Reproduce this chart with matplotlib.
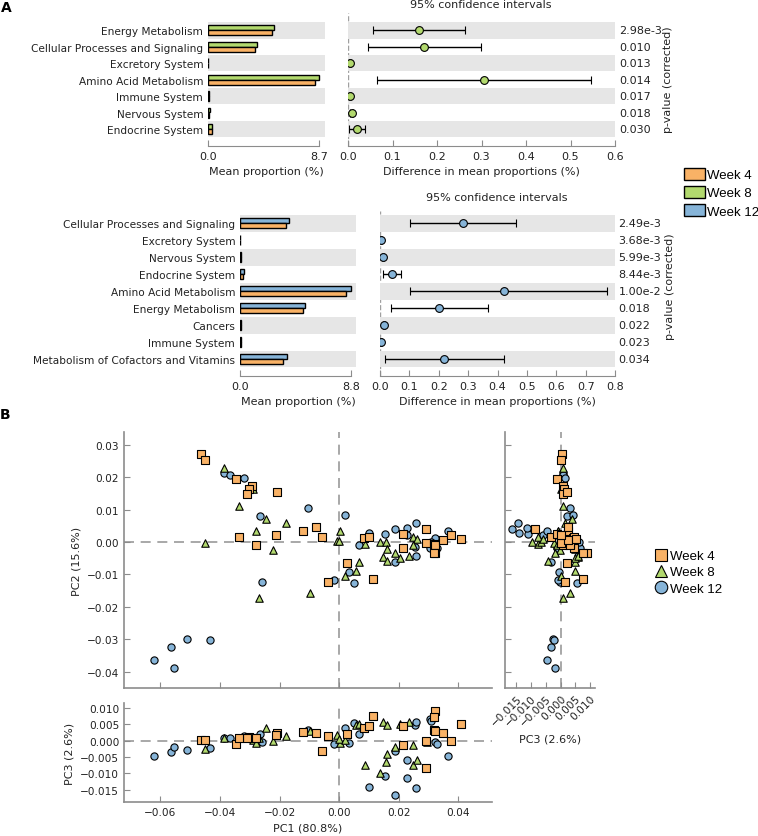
import numpy as np
import matplotlib
matplotlib.use('Agg')
import matplotlib.pyplot as plt
import matplotlib.transforms as mtransforms
from matplotlib.patches import Patch
from matplotlib.lines import Line2D

W, H = 758, 837

# colours
c4, c8, c12 = '#F9B266', '#B2D96E', '#86B4D8'
band = '#E6E6E6'
spine_gray = '#8C8C8C'

# ---- panel A, week 4 vs week 8 ----
cats_a1 = ['Energy Metabolism', 'Cellular Processes and Signaling', 'Excretory System',
           'Amino Acid Metabolism', 'Immune System', 'Nervous System', 'Endocrine System']
w8_mean = [5.17, 3.84, 0.02, 8.70, 0.10, 0.12, 0.35]
w4_mean_a1 = [5.00, 3.68, 0.02, 8.42, 0.09, 0.11, 0.30]
diff_a1 = [0.160, 0.170, 0.005, 0.306, 0.005, 0.008, 0.021]
lo_a1 = [0.057, 0.044, 0.003, 0.066, 0.003, 0.005, 0.003]
hi_a1 = [0.263, 0.298, 0.007, 0.547, 0.007, 0.011, 0.038]
p_a1 = ['2.98e-3', '0.010', '0.013', '0.014', '0.017', '0.018', '0.030']

# ---- panel A, week 4 vs week 12 ----
cats_a2 = ['Cellular Processes and Signaling', 'Excretory System', 'Nervous System',
           'Endocrine System', 'Amino Acid Metabolism', 'Energy Metabolism', 'Cancers',
           'Immune System', 'Metabolism of Cofactors and Vitamins']
w12_mean = [3.91, 0.02, 0.10, 0.30, 8.80, 5.18, 0.10, 0.08, 3.70]
w4_mean_a2 = [3.62, 0.02, 0.09, 0.25, 8.38, 4.97, 0.09, 0.07, 3.44]
diff_a2 = [0.284, 0.005, 0.011, 0.042, 0.422, 0.202, 0.014, 0.004, 0.219]
lo_a2 = [0.102, 0.003, 0.008, 0.009, 0.102, 0.036, 0.010, 0.002, 0.017]
hi_a2 = [0.463, 0.007, 0.014, 0.070, 0.772, 0.369, 0.018, 0.006, 0.422]
p_a2 = ['2.49e-3', '3.68e-3', '5.99e-3', '8.44e-3', '1.00e-2', '0.018', '0.022', '0.023', '0.034']

# ---- panel B, PCA scores ----
w4_pc1 = [-0.0462, -0.0451, -0.0347, -0.0294, -0.0302, -0.0308, -0.0210, -0.0336, -0.0280, -0.0212,
          -0.0122, -0.0078, -0.0059, -0.0039, 0.0026, 0.0082, 0.0099, 0.0114, 0.0214, 0.0214,
          0.0293, 0.0291, 0.0317, 0.0322, 0.0322, 0.0348, 0.0376, 0.0410, 0.0320]
w4_pc2 = [0.0272, 0.0254, 0.0193, 0.0173, 0.0162, 0.0147, 0.0154, 0.0015, -0.0010, 0.0021,
          0.0034, 0.0046, 0.0015, -0.0123, -0.0066, 0.0013, 0.0015, -0.0115, 0.0026, -0.0018,
          0.0039, -0.0002, -0.0005, -0.0010, -0.0033, 0.0005, 0.0023, 0.0010, -0.0035]
w4_pc3 = [0.0003, 0.0002, -0.0011, 0.0009, 0.0012, 0.0009, 0.0023, 0.0009, 0.0007, 0.0019,
          0.0026, 0.0025, -0.0032, 0.0015, 0.0020, 0.0040, 0.0046, 0.0076, -0.0013, 0.0046,
          -0.0085, 0.0000, 0.0033, 0.0031, 0.0090, 0.0024, 0.0000, 0.0053, 0.0074]

w8_pc1 = [-0.0388, -0.0288, -0.0337, -0.0244, -0.0180, -0.0280, -0.0451, -0.0221, -0.0270, -0.0097,
          -0.0008, 0.0003, 0.0001, 0.0020, 0.0056, 0.0065, 0.0087, 0.0138, 0.0147, 0.0157,
          0.0160, 0.0160, 0.0186, 0.0205, 0.0234, 0.0247, 0.0261, 0.0247, 0.0294]
w8_pc2 = [0.0229, 0.0162, 0.0110, 0.0072, 0.0057, 0.0034, -0.0003, -0.0024, -0.0173, -0.0157,
          0.0003, 0.0034, 0.0002, -0.0105, -0.0090, -0.0062, -0.0005, 0.0000, -0.0046, 0.0000,
          -0.0023, -0.0060, -0.0033, -0.0049, -0.0044, 0.0015, 0.0010, -0.0010, -0.0003]
w8_pc3 = [0.0009, 0.0002, 0.0007, 0.0038, 0.0014, -0.0008, -0.0024, -0.0001, 0.0009, 0.0030,
          0.0017, -0.0008, 0.0005, 0.0002, 0.0048, 0.0050, -0.0075, -0.0098, 0.0059, -0.0065,
          0.0048, -0.0042, -0.0019, 0.0050, 0.0059, -0.0075, -0.0058, -0.0013, -0.0003]

w12_pc1 = [-0.0620, -0.0564, -0.0554, -0.0512, -0.0434, -0.0386, -0.0365, -0.0318, -0.0266, -0.0259,
           -0.0106, -0.0016, 0.0020, 0.0034, 0.0051, 0.0068, 0.0099, 0.0154, 0.0186, 0.0188,
           0.0227, 0.0229, 0.0255, 0.0257, 0.0259, 0.0306, 0.0322, 0.0365, 0.0309, 0.0328]
w12_pc2 = [-0.0364, -0.0323, -0.0387, -0.0298, -0.0302, 0.0213, 0.0208, 0.0198, 0.0079, -0.0122,
           0.0106, -0.0118, 0.0083, -0.0092, -0.0126, -0.0008, 0.0029, 0.0024, 0.0041, -0.0062,
           0.0043, 0.0021, -0.0015, 0.0059, -0.0043, -0.0017, 0.0013, 0.0034, 0.0000, -0.0020]
w12_pc3 = [-0.0047, -0.0034, -0.0019, -0.0027, -0.0022, 0.0009, 0.0009, 0.0015, 0.0020, -0.0003,
           0.0033, -0.0010, 0.0040, -0.0006, 0.0056, 0.0020, -0.0142, -0.0109, -0.0165, -0.0031,
           -0.0113, -0.0058, 0.0048, -0.0145, 0.0059, 0.0067, -0.0003, -0.0046, 0.0061, -0.0011]

fig = plt.figure(figsize=(W / 100, H / 100), dpi=100)


def add_ax(x0, y0, x1, y1):
    # axes from pixel box (top-left origin)
    return fig.add_axes([x0 / W, 1 - y1 / H, (x1 - x0) / W, (y1 - y0) / H])


def fx(px):
    return px / W


def fy(py):
    return 1 - py / H


def stamp_panel(bx, bar_tick_px, cx, top, first_row, row_step, bottom,
                cats, mean_new, mean_w4, col, diff, lo, hi, pvals, bar_max, ci_max):
    n = len(cats)
    rows = np.arange(n)
    ylim = ((bottom - first_row) / row_step, -(first_row - top) / row_step)
    ax_b = add_ax(bx[0], top, bx[1], bottom)
    ax_c = add_ax(cx[0], top, cx[1], bottom)
    for ax in (ax_b, ax_c):
        for i in rows[::2]:
            ax.axhspan(i - 0.5, i + 0.5, color=band, lw=0, zorder=0.5)
        ax.set_ylim(*ylim)
        for s in ('left', 'right', 'top'):
            ax.spines[s].set_visible(False)
        ax.spines['bottom'].set_color(spine_gray)
        ax.tick_params(axis='x', direction='in', length=4, colors=spine_gray,
                       labelcolor='#222222', labelsize=8)
        ax.tick_params(axis='y', length=0)

    # mean proportions
    ax_b.barh(rows - 0.155, mean_new, height=0.3, color=col, edgecolor='black', lw=1, zorder=2)
    ax_b.barh(rows + 0.155, mean_w4, height=0.3, color=c4, edgecolor='black', lw=1, zorder=2)
    ax_b.set_xlim(0, bar_max * (bx[1] - bx[0]) / (bar_tick_px - bx[0]))
    ax_b.spines['bottom'].set_bounds(0, bar_max)
    ax_b.set_xticks([0, bar_max])
    ax_b.set_xticklabels(['0.0', f'{bar_max:.1f}'])
    ax_b.set_yticks(rows)
    ax_b.set_yticklabels(cats, fontsize=7.6, color='#222222')
    ax_b.set_xlabel('Mean proportion (%)', fontsize=8, color='#222222')

    # differences with confidence intervals
    d = np.array(diff)
    ax_c.axvline(0, ls='--', color='#A0A0A0', lw=1, zorder=0.2)
    ax_c.errorbar(d, rows, xerr=[d - np.array(lo), np.array(hi) - d], fmt='o', color=col,
                  mec='black', mew=0.8, ms=5.6, ecolor='black', elinewidth=1, capsize=3, zorder=3)
    ax_c.set_xlim(0, ci_max)
    ax_c.set_xticks(np.arange(0, ci_max + 0.001, 0.1))
    ax_c.set_xticklabels([f'{v:.1f}' for v in np.arange(0, ci_max + 0.001, 0.1)])
    ax_c.set_yticks([])
    ax_c.set_xlabel('Difference in mean proportions (%)', fontsize=8, color='#222222')
    tr = mtransforms.blended_transform_factory(ax_c.transAxes, ax_c.transData)
    for i, p in enumerate(pvals):
        ax_c.text(1.015, i, p, transform=tr, va='center', ha='left', fontsize=8, color='#222222')
    return ax_b, ax_c


stamp_panel((208, 325), 319, (348, 615), 14, 31.3, 16.45, 147,
            cats_a1, w8_mean, w4_mean_a1, c8, diff_a1, lo_a1, hi_a1, p_a1, 8.7, 0.6)
stamp_panel((240, 356), 351, (380, 615), 212, 224.3, 16.96, 377,
            cats_a2, w12_mean, w4_mean_a2, c12, diff_a2, lo_a2, hi_a2, p_a2, 8.8, 0.8)

fig.text(fx(481), fy(5), '95% confidence intervals', ha='center', va='center', fontsize=8, color='#222222')
fig.text(fx(497), fy(198), '95% confidence intervals', ha='center', va='center', fontsize=8, color='#222222')
fig.text(fx(668), fy(80), 'p-value (corrected)', rotation=90, ha='center', va='center', fontsize=8, color='#222222')
fig.text(fx(670), fy(287), 'p-value (corrected)', rotation=90, ha='center', va='center', fontsize=8, color='#222222')

fig.legend(handles=[Patch(fc=c, ec='black', lw=1) for c in (c4, c8, c12)],
           labels=['Week 4', 'Week 8', 'Week 12'], loc='upper left',
           bbox_to_anchor=(fx(684), fy(169)), frameon=False,
           prop={'family': 'Liberation Sans', 'size': 9.5}, handlelength=1.6, handleheight=1.0,
           handletextpad=0.15, labelspacing=0.35, borderpad=0, borderaxespad=0)

fig.text(fx(6), fy(8), 'A', fontweight='bold', fontsize=10, ha='center', va='center')
fig.text(fx(5), fy(415), 'B', fontweight='bold', fontsize=10, ha='center', va='center')

# ---- panel B ----
groups = [
    (w12_pc1, w12_pc2, w12_pc3, 'o', c12, 27),
    (w8_pc1, w8_pc2, w8_pc3, '^', c8, 29),
    (w4_pc1, w4_pc2, w4_pc3, 's', c4, 26),
]


def style_pc(ax):
    for s in ('right', 'top'):
        ax.spines[s].set_visible(False)
    for s in ('left', 'bottom'):
        ax.spines[s].set_color(spine_gray)
        ax.spines[s].set_linewidth(1.2)
    ax.tick_params(direction='in', length=4, colors=spine_gray, labelcolor='#222222', labelsize=7.6)
    ax.axhline(0, ls='--', color='#999999', lw=1.2, dashes=(6, 4), zorder=1)
    ax.axvline(0, ls='--', color='#999999', lw=1.2, dashes=(6, 4), zorder=1)


ax_m = add_ax(124, 433, 492, 689)
ax_r = add_ax(505, 433, 595, 689)
ax_l = add_ax(124, 704, 492, 803)
for ax in (ax_m, ax_r, ax_l):
    style_pc(ax)

for pc1, pc2, pc3, mk, col, s in groups:
    ax_m.scatter(pc1, pc2, marker=mk, s=s, c=col, edgecolors='black', linewidths=0.8, zorder=3)
    ax_r.scatter(pc3, pc2, marker=mk, s=s, c=col, edgecolors='black', linewidths=0.8, zorder=3)
    ax_l.scatter(pc1, pc3, marker=mk, s=s, c=col, edgecolors='black', linewidths=0.8, zorder=3)

pc1_lim = (-0.0722, 0.0513)
pc2_lim = (-0.0450, 0.0339)
pc3_lim = (-0.0188, 0.0116)
pc1_ticks = [-0.06, -0.04, -0.02, 0.0, 0.02, 0.04]
pc2_ticks = [-0.04, -0.03, -0.02, -0.01, 0.0, 0.01, 0.02, 0.03]
pc3_ticks = [-0.015, -0.010, -0.005, 0.0, 0.005, 0.010]

ax_m.set_xlim(*pc1_lim)
ax_m.set_ylim(*pc2_lim)
ax_m.set_xticks(pc1_ticks)
ax_m.set_xticklabels([])
ax_m.set_yticks(pc2_ticks)
ax_m.set_ylabel('PC2 (15.6%)', fontsize=8, color='#222222')

ax_r.set_xlim(*pc3_lim)
ax_r.set_ylim(*pc2_lim)
ax_r.set_yticks(pc2_ticks)
ax_r.set_yticklabels([])
ax_r.set_xticks(pc3_ticks)
plt.setp(ax_r.get_xticklabels(), rotation=45, ha='right', rotation_mode='anchor')
ax_r.set_xlabel('PC3 (2.6%)', fontsize=8, color='#222222')

ax_l.set_xlim(*pc1_lim)
ax_l.set_ylim(*pc3_lim)
ax_l.set_xticks(pc1_ticks)
ax_l.set_yticks(pc3_ticks)
ax_l.set_xlabel('PC1 (80.8%)', fontsize=8, color='#222222')
ax_l.set_ylabel('PC3 (2.6%)', fontsize=8, color='#222222')

fig.legend(handles=[Line2D([], [], ls='', marker=m, ms=9, mfc=c, mec='black', mew=0.8)
                    for m, c in (('s', c4), ('^', c8), ('o', c12))],
           labels=['Week 4', 'Week 8', 'Week 12'], loc='upper left',
           bbox_to_anchor=(fx(654), fy(551)), frameon=False,
           prop={'family': 'Liberation Sans', 'size': 9.5}, handlelength=1.0,
           handletextpad=0.2, labelspacing=0.3, borderpad=0, borderaxespad=0)

fig.savefig('out.png', dpi=100)
